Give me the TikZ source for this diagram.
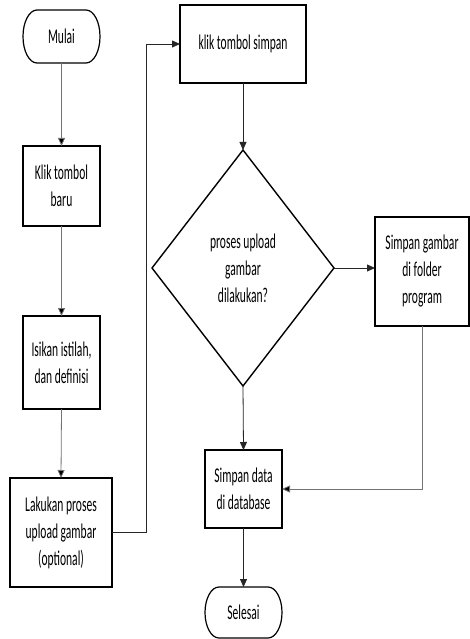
\documentclass[tikz,border=0pt]{standalone}
\usepackage{fontspec}
\setmainfont{Carlito}[FakeStretch=0.55]
\usetikzlibrary{shapes.geometric,arrows.meta}
\begin{document}
\begin{tikzpicture}[x=1pt,y=1pt,
  txt/.style={align=center, inner sep=0pt, outer sep=0pt, font=\fontsize{21}{27}\selectfont},
  box/.style={txt, draw=black, line width=1.4pt},
  term/.style={txt, draw=none},
  dia/.style={txt, shape=diamond, draw=black, line width=1.4pt},
  edge/.style={line width=0.8pt, line join=miter, -{Triangle[length=8pt,width=7pt]}},
  gedge/.style={edge, draw=black!55, -{Triangle[length=8pt,width=7pt,fill=black]}},
  kedge/.style={edge, draw=black!85}
]
\useasboundingbox (0,0) rectangle (470,-639);
\fill[white] (0,0) rectangle (470,-639);

% nodes
\node[term, minimum width=77, minimum height=53] (m) at (61.5,-36.5) {Mulai};
\node[box, minimum width=77, minimum height=80] (b1) at (61.5,-186) {Klik tombol\\baru};
\node[box, minimum width=77, minimum height=93] (b2) at (61.5,-362.5) {Isikan istilah,\\dan definisi};
\node[box, minimum width=102, minimum height=109] (b3) at (61,-532.5) {Lakukan proses\\upload gambar\\(optional)};
\node[box, minimum width=126, minimum height=78] (s1) at (243,-44) {klik tombol simpan};
\node[dia, minimum width=182, minimum height=236] (d) at (243,-268) {proses upload\\gambar\\dilakukan?};
\node[box, minimum width=94, minimum height=109] (g) at (422,-271.5) {Simpan gambar\\di folder\\program};
\node[box, minimum width=77, minimum height=78] (sd) at (243.5,-489) {Simpan data\\di database};
\node[term, minimum width=77, minimum height=51] (e) at (243.5,-612.5) {Selesai};

% terminal outlines
\draw[line width=1.2pt] ([xshift=14pt]m.north west) -- ([xshift=-14pt]m.north east)
  arc[start angle=90,end angle=-90,x radius=14pt,y radius=26.5pt]
  -- ([xshift=14pt]m.south west)
  arc[start angle=270,end angle=90,x radius=14pt,y radius=26.5pt] -- cycle;
\draw[line width=1.2pt] ([xshift=14pt]e.north west) -- ([xshift=-14pt]e.north east)
  arc[start angle=90,end angle=-90,x radius=14pt,y radius=25.5pt]
  -- ([xshift=14pt]e.south west)
  arc[start angle=270,end angle=90,x radius=14pt,y radius=25.5pt] -- cycle;

% connectors
\draw[gedge] (m.south) -- (b1.north);
\draw[gedge] (b1.south) -- (b2.north);
\draw[gedge] (b2.south) -- (b3.north);
\draw[kedge] (b3.east) -- ++(34,0) |- (s1.west);
\draw[kedge] (s1.south) -- (d.north);
\draw[kedge] (d.east) -- (d.east -| g.west);
\draw[kedge] (d.south) -- (sd.north);
\draw[gedge] (g.south) |- (sd.east);
\draw[kedge] (sd.south) -- (e.north);
\end{tikzpicture}
\end{document}
